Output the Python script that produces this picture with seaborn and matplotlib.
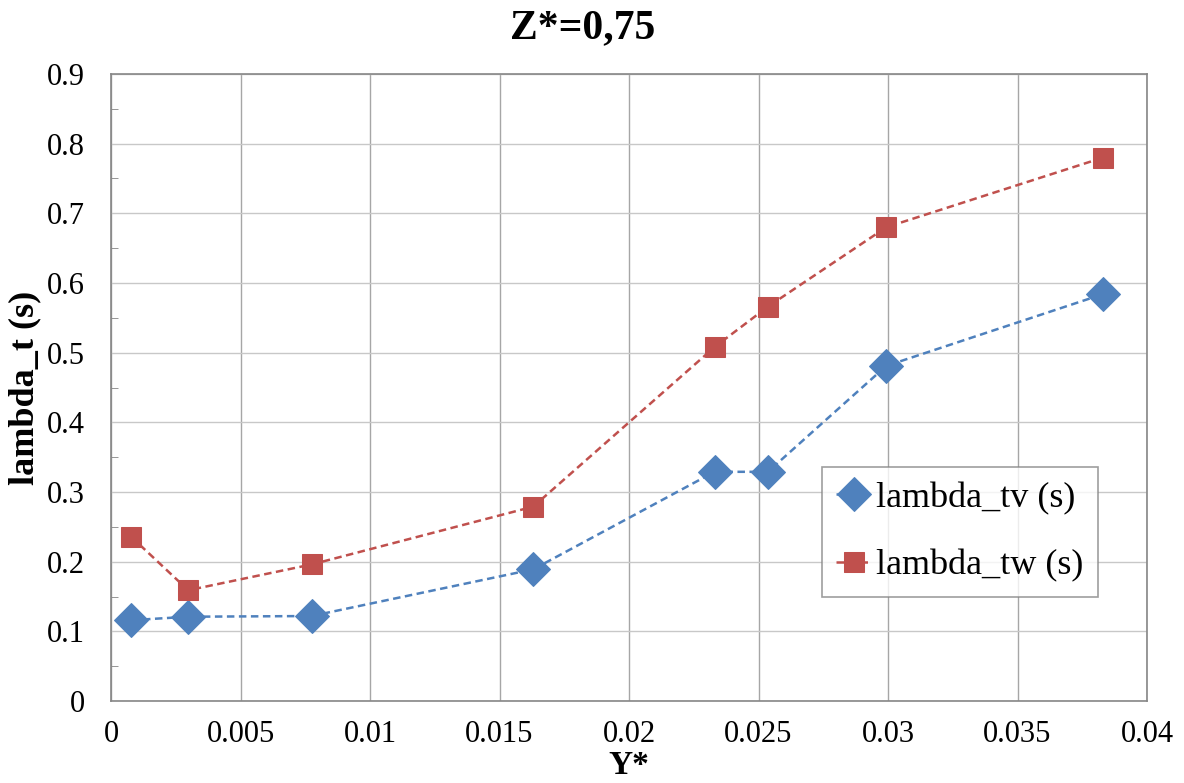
import numpy as np
import pandas as pd
import matplotlib
matplotlib.use("Agg")
import matplotlib.pyplot as plt
import seaborn as sns
from matplotlib.ticker import MultipleLocator

# данные
y_star = [0.00077, 0.00298, 0.00774, 0.0163, 0.0233, 0.02536, 0.02993, 0.0383]
lambda_tv = [0.116, 0.121, 0.122, 0.189, 0.329, 0.329, 0.481, 0.584]
lambda_tw = [0.236, 0.159, 0.196, 0.279, 0.508, 0.566, 0.680, 0.780]

series_names = ["lambda_tv (s)", "lambda_tw (s)"]
series_colors = ["#4F81BD", "#C0504D"]
series_markers = ["D", "s"]
series_msize = [17, 15]

x_ticks = [0, 0.005, 0.01, 0.015, 0.02, 0.025, 0.03, 0.035, 0.04]
x_labels = ["0", "0.005", "0.01", "0.015", "0.02", "0.025", "0.03", "0.035", "0.04"]
y_ticks = [0, 0.1, 0.2, 0.3, 0.4, 0.5, 0.6, 0.7, 0.8, 0.9]
y_labels = ["0", "0.1", "0.2", "0.3", "0.4", "0.5", "0.6", "0.7", "0.8", "0.9"]

df = pd.DataFrame({"Y*": y_star, series_names[0]: lambda_tv, series_names[1]: lambda_tw})

sns.set_style("white")
plt.rcParams['font.family'] = ['Liberation Serif', 'DejaVu Serif']
plt.rcParams['text.color'] = 'black'
plt.rcParams['xtick.color'] = 'black'
plt.rcParams['ytick.color'] = 'black'
plt.rcParams['axes.labelcolor'] = 'black'

fig = plt.figure(figsize=(11.84, 7.83), dpi=100)
ax = fig.add_axes([0.0938, 0.1047, 0.875, 0.8008])

for name, col, mk, ms in zip(series_names, series_colors, series_markers, series_msize):
    sns.lineplot(data=df, x="Y*", y=name, ax=ax, color=col, marker=mk, markersize=ms,
                 markeredgecolor=col, linestyle="--", linewidth=1.8, label=name)
    ax.lines[-1].set_dashes((3, 1.8))

ax.set_xlim(0, 0.04)
ax.set_ylim(0, 0.9)
ax.set_xticks(x_ticks)
ax.set_xticklabels(x_labels)
ax.set_yticks(y_ticks)
ax.set_yticklabels(y_labels)
ax.yaxis.set_minor_locator(MultipleLocator(0.05))
ax.tick_params(axis="both", which="major", length=0, labelsize=22)
ax.tick_params(axis="y", which="major", pad=19)
ax.tick_params(axis="x", which="major", pad=14)
ax.tick_params(axis="y", which="minor", direction="in", length=5, color="#868686", left=True)
ax.grid(True, which="major", axis="x", color="#A6A6A6", linewidth=1)
ax.grid(True, which="major", axis="y", color="#C8C8C8", linewidth=1)
ax.set_axisbelow(True)
for s in ax.spines.values():
    s.set_color("#868686")
    s.set_linewidth(1.2)

ax.set_ylabel("lambda_t (s)", fontsize=26, fontweight="bold")
ax.yaxis.set_label_coords(-0.083, 0.5)
ax.yaxis.label.set_va("center")
fig.suptitle("Z*=0,75", x=0.4924, y=0.964, va="center", fontsize=30, fontweight="bold")

leg = ax.legend(loc="upper left", bbox_to_anchor=(0.686, 0.373), borderaxespad=0,
                fontsize=26, frameon=True, fancybox=False, handlelength=1.0,
                handletextpad=0.1, borderpad=0.4, labelspacing=0.95)
leg.get_frame().set_edgecolor("#868686")
leg.get_frame().set_linewidth(1.2)

# подпись оси X - сразу под подписями делений
ax.set_xlabel("")
fig.canvas.draw()
renderer = fig.canvas.get_renderer()
tick_bottom = min(t.get_window_extent(renderer).y0 for t in ax.get_xticklabels())
fig.text(0.5 * (0.0938 + 0.9688), (tick_bottom - 1) / fig.bbox.height, "Y*",
         ha="center", va="top", fontsize=24, fontweight="bold")

fig.savefig("out.png", dpi=100)
